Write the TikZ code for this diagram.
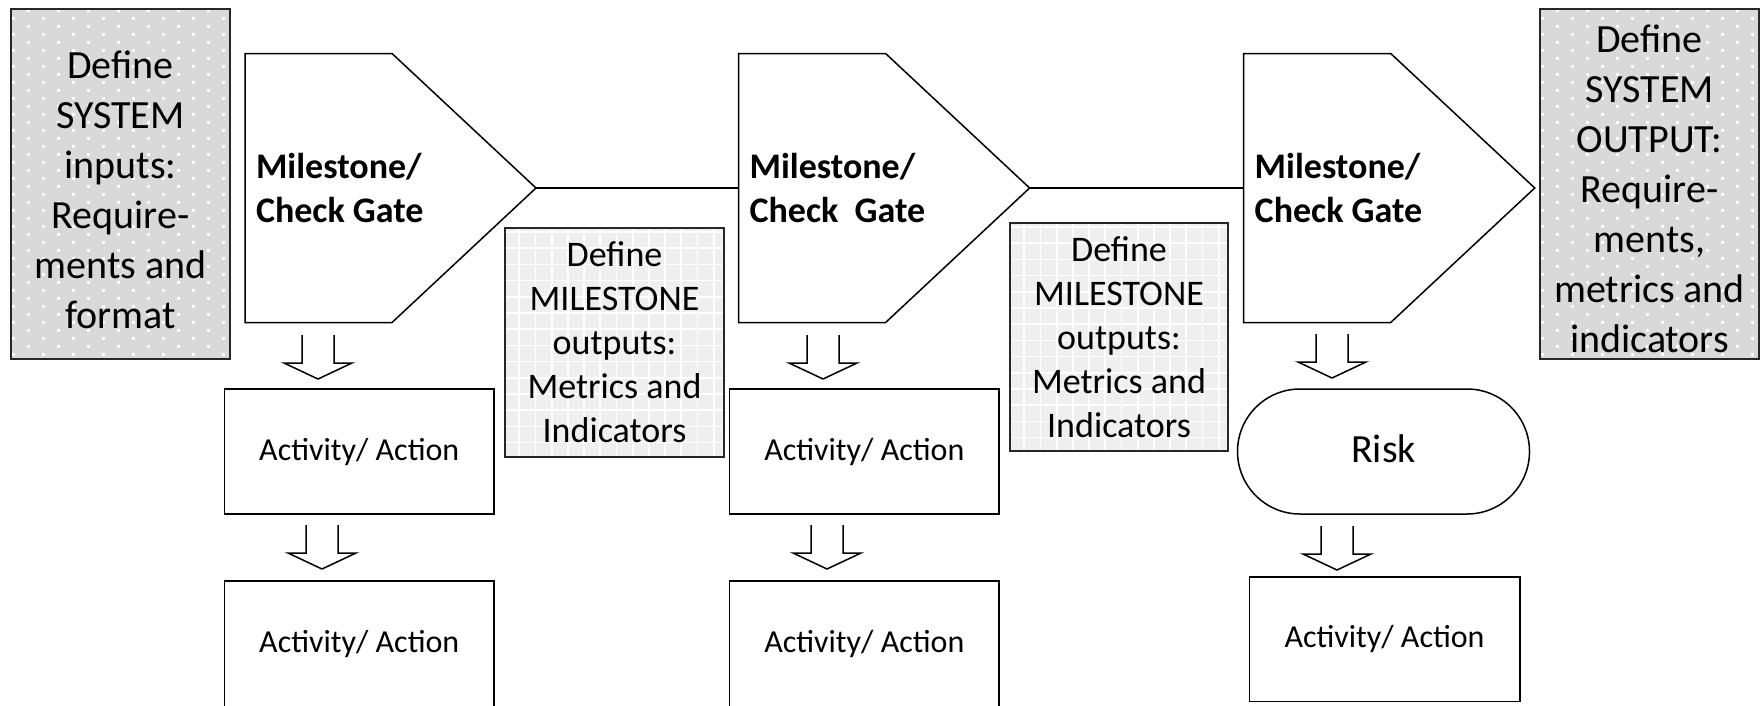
\documentclass[tikz,border=0pt]{standalone}
\usepackage{fontspec}
\setmainfont{Carlito}
\usetikzlibrary{calc,shapes.misc}

\definecolor{sysfill}{HTML}{D9D9D9}
\definecolor{gridfill}{HTML}{EFEFEF}
\definecolor{edge}{HTML}{262626}

\tikzset{
  every node/.style={inner sep=0pt, outer sep=0pt},
  % grey box with a staggered field of small white dots
  sysbox/.style={draw=edge, line width=2pt, fill=sysfill,
    minimum width=219pt, minimum height=350pt,
    path picture={
      \coordinate (pp) at (path picture bounding box.north west);
      \foreach \r in {0,...,44}{
        \pgfmathsetmacro\dx{ifthenelse(mod(\r,2)==0,17.7,2.7)}
        \foreach \c in {0,...,7}{
          \fill[white] ($(pp)+(\dx+30*\c-1.5,1+8*\r-1.5)$) rectangle ++(3,3);
        }
      }
    }},
  systext/.style={align=center, font=\fontsize{40}{50}\selectfont},
  % light box with a fine white grid
  gridbox/.style={draw=edge, line width=1.5pt, fill=gridfill,
    minimum width=219pt, minimum height=229pt, align=center,
    font=\fontsize{36}{44}\selectfont,
    path picture={
      \coordinate (pp) at (path picture bounding box.north west);
      \foreach \k in {0,...,14}{
        \draw[white, line width=1.7pt] ($(pp)+(14.3+16.2*\k,0)$) -- ++(0,240);
        \draw[white, line width=1.7pt] ($(pp)+(0,4+16.2*\k)$) -- ++(240,0);
      }
    }},
  actbox/.style={draw=black, line width=1.5pt, minimum width=269.5pt,
    minimum height=125pt, font=\fontsize{32}{38}\selectfont},
  riskbox/.style={rounded rectangle, draw=black, line width=1.5pt,
    minimum width=292pt, minimum height=125pt},
  risktext/.style={font=\fontsize{40}{48}\selectfont},
  gatetext/.style={font=\bfseries\fontsize{36}{44}\selectfont, align=left},
  gateline/.style={draw=black, line width=1.5pt, line join=miter},
  link/.style={draw=black, line width=1.5pt},
  hollowarrow/.style={draw=black, line width=1.5pt, line join=miter},
}

% pentagon-shaped milestone gate: name, left x, text
\newcommand\milestonegate[3]{%
  \draw[gateline] (#2,53.5) -- (#2+147,53.5) -- (#2+291,188)
    -- (#2+147,322.5) -- (#2,322.5) -- cycle;
  \coordinate (#1w) at (#2,188);
  \coordinate (#1tip) at (#2+291,188);
  \node[gatetext, anchor=west] (#1) at (#2+11,188) {#3};
}

% open-topped hollow down arrow: name, centre x, top y
\newcommand\hollowdown[3]{%
  \coordinate (#1) at (#2,#3);
  \draw[hollowarrow] ($(#1)+(-16,0)$) -- ++(0,28) -- ++(-18,0)
    -- ($(#1)+(0,44)$) -- ($(#1)+(34,28)$) -- ++(-18,0) -- ++(0,-28);
}

\begin{document}
\begin{tikzpicture}[x=1pt, y=-1pt]
  \useasboundingbox (0,0) rectangle (1760,705);

  % system inputs and outputs
  \node[sysbox] (sysin) at (120.5,184) {};
  \node[systext] (sysinT) at ($(sysin.center)+(0,6)$)
    {Define\\SYSTEM\\inputs:\\Require-\\ments and\\format};
  \node[sysbox] (sysout) at (1649.5,184) {};
  \node[systext] (sysoutT) at ($(sysout.center)+(0,5)$)
    {Define\\SYSTEM\\OUTPUT:\\Require-\\ments,\\metrics and\\indicators};

  % milestone gates and the line joining them
  \milestonegate{g1}{245}{Milestone/\\Check Gate}
  \milestonegate{g2}{738.6}{Milestone/\\Check~~Gate}
  \milestonegate{g3}{1243.7}{Milestone/\\Check Gate}
  \draw[link] (g1tip) -- (g2w);
  \draw[link] (g2tip) -- (g3w);

  % milestone output definitions
  \node[gridbox] (mo1) at (614.5,342.5)
    {Define\\MILESTONE\\outputs:\\Metrics and\\Indicators};
  \node[gridbox, minimum width=218pt, minimum height=228pt] (mo2) at (1119,337)
    {Define\\MILESTONE\\outputs:\\Metrics and\\Indicators};

  % activities and risk
  \node[actbox] (a11) at (359.25,451.5) {Activity/ Action};
  \node[actbox] (a12) at (864.3,451.5) {Activity/ Action};
  \node[riskbox] (risk) at (1383.5,451.5) {};
  \node[risktext] (riskT) at ($(risk.center)+(0,-3)$) {Risk};
  \node[actbox, minimum height=126pt] (a21) at (359.25,644) {Activity/ Action};
  \node[actbox, minimum height=126pt] (a22) at (864.3,644) {Activity/ Action};
  \node[actbox, minimum width=270.5pt, minimum height=124.5pt] (a23)
    at (1384.5,639.25) {Activity/ Action};

  % hollow arrows between the stages
  \hollowdown{d1}{318}{335}
  \hollowdown{d2}{322}{525}
  \hollowdown{d3}{823}{335}
  \hollowdown{d4}{827}{525}
  \hollowdown{d5}{1332}{334}
  \hollowdown{d6}{1337}{526}
\end{tikzpicture}
\end{document}
